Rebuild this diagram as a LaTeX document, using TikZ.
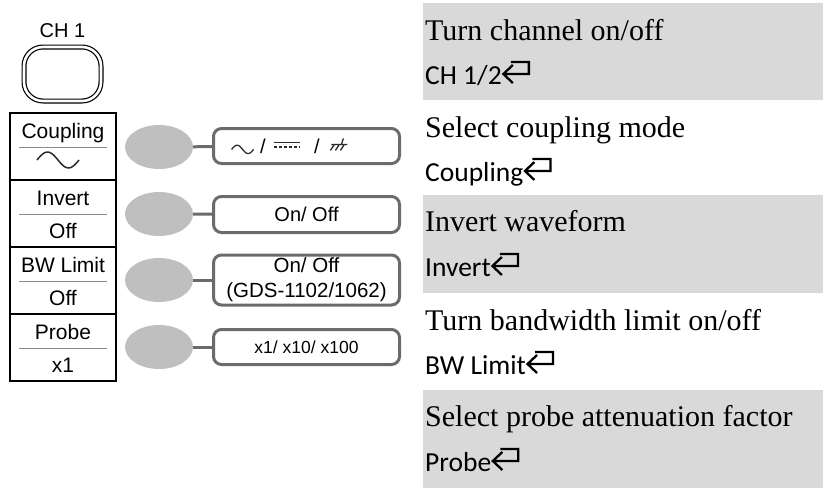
\documentclass[tikz,border=0pt]{standalone}
\usepackage{fontspec}
\setmainfont{Liberation Serif}
\setsansfont{Liberation Sans}
\newfontfamily\keyfont{Carlito}
\usetikzlibrary{positioning,shapes.geometric}
\definecolor{bandgrey}{HTML}{D9D9D9}
\definecolor{knobgrey}{HTML}{BFBFBF}
\definecolor{rimgrey}{HTML}{6B6B6B}
\definecolor{rulegrey}{HTML}{8C8C8C}
\definecolor{inkdark}{HTML}{2B2B2B}
% small glyphs drawn inline
\newcommand{\retkey}{\tikz[baseline=0pt, x=1pt, y=1pt, line width=2.3pt, sharp corners]
  \draw[line join=miter] (9,22) -- (27,22) -- (27,10) -- (1,10) (11,19) -- (1.5,10) -- (11,1);}
\newcommand{\acsym}[2]{\tikz[baseline=-4pt, x=1pt, y=1pt, sharp corners]
  \draw[line width=#2, inkdark] plot[domain=0:#1, samples=40, smooth] (\x, {0.19*#1*sin(\x/#1*360)});}
\newcommand{\dcsym}{\tikz[baseline=-4pt, x=1pt, y=1pt, line width=1.4pt, inkdark, sharp corners]
  {\draw (0,7) -- (26,7); \draw[dash pattern=on 3pt off 2pt] (0,2.5) -- (26,2.5);}}
\newcommand{\gndsym}{\tikz[baseline=-4pt, x=1pt, y=1pt, line width=1.3pt, inkdark, sharp corners]
  {\draw (2,5) -- (18,5) (12,5) -- (14,11) (5,5) -- (1,-1) (10,5) -- (6,-1) (15,5) -- (11,-1);}}
\tikzset{
  menucell/.style={draw, line width=1.1pt, minimum width=106pt, minimum height=67pt, inner sep=0pt},
  menutxt/.style={font=\fontsize{21}{21}\sffamily, anchor=base, inner sep=0pt},
  menurule/.style={rulegrey, line width=1pt},
  knob/.style={ellipse, fill=knobgrey, minimum width=68pt, minimum height=44pt, inner sep=0pt},
  optbox/.style={draw=rimgrey, line width=3pt, rounded corners=8pt, minimum width=186pt,
                 align=center, inner sep=0pt, font=\fontsize{20}{25}\sffamily},
  link/.style={rimgrey, line width=3pt},
  band/.style={fill=bandgrey},
  desc/.style={anchor=base west, inner sep=0pt, font=\fontsize{30}{31}\selectfont},
  keyname/.style={anchor=base west, inner sep=0pt, font=\fontsize{27.5}{28}\keyfont},
}
\begin{document}
\begin{tikzpicture}[x=1pt, y=-1pt]
  \useasboundingbox (0,0) rectangle (823,488);
  % channel key
  \node[font=\fontsize{20}{20}\sffamily, anchor=base, inner sep=0pt] (chlab) at (62.5,37) {CH 1};
  \node[draw, line width=1.2pt, double, double distance=2.6pt, rounded corners=19pt,
        minimum width=77pt, minimum height=54pt] (chbtn) at (62.5,74) {};
  % soft menu column
  \node[menucell] (mcoup) at (63,146.5) {};
  \node[menucell] (minv)  at (63,213.5) {};
  \node[menucell] (mbw)   at (63,280.5) {};
  \node[menucell] (mprb)  at (63,347.5) {};
  \node[menutxt] (lcoup) at (63,138) {Coupling};
  \node[menutxt] (linv)  at (63,205) {Invert};
  \node[menutxt] (lbw)   at (63,272) {BW Limit};
  \node[menutxt] (lprb)  at (63,339) {Probe};
  \node[inner sep=0pt] (vcoup) at (58,160) {\acsym{42}{1.5pt}};
  \node[menutxt] (vinv)  at (63,238) {Off};
  \node[menutxt] (vbw)   at (63,305) {Off};
  \node[menutxt] (vprb)  at (63,372) {x1};
  \foreach \t in {113,180,247,314}
    \draw[menurule] (19,\t+34) -- (107,\t+34);
  % knobs and their settings
  \node[knob] (kcoup) at (159,147) {};
  \node[knob] (kinv)  at (159,214) {};
  \node[knob] (kbw)   at (159,280) {};
  \node[knob] (kprb)  at (159,347) {};
  \node[optbox, minimum height=35pt] (ocoup) at (306.5,146)
     {\acsym{22}{1.3pt}\hspace{6pt}/\hspace{7pt}\dcsym\hspace{14pt}/\hspace{10pt}\gndsym\hspace{34pt}};
  \node[optbox, minimum height=36pt] (oinv) at (306.5,214.5) {On/ Off};
  \node[optbox, minimum height=50pt, font=\fontsize{20.5}{25}\sffamily] (obw) at (306.5,280)
     {On/ Off\\(GDS-1102/1062)};
  \node[optbox, minimum height=35pt, font=\fontsize{17.5}{20}\sffamily] (oprb) at (306.5,347) {x1/ x10/ x100};
  \foreach \n in {coup,inv,bw,prb} \draw[link] (k\n) -- (o\n);
  % descriptions
  \fill[band] (423,3) rectangle (823,100);
  \fill[band] (423,195) rectangle (823,293);
  \fill[band] (423,390) rectangle (823,488);
  \node[desc] (dch)  at (425,40)  {Turn channel on/off};
  \node[keyname] (kch) at (425,84) {CH 1/2\retkey};
  \node[desc] (dcp)  at (425,137) {Select coupling mode};
  \node[keyname] (kcp) at (425,181) {Coupling\retkey};
  \node[desc] (div)  at (425,231) {Invert waveform};
  \node[keyname] (kiv) at (425,276) {Invert\retkey};
  \node[desc] (dbw)  at (425,330) {Turn bandwidth limit on/off};
  \node[keyname] (kbl) at (425,374) {BW Limit\retkey};
  \node[desc] (dpr)  at (425,426) {Select probe attenuation factor};
  \node[keyname] (kpr) at (425,471) {Probe\retkey};
\end{tikzpicture}
\end{document}
